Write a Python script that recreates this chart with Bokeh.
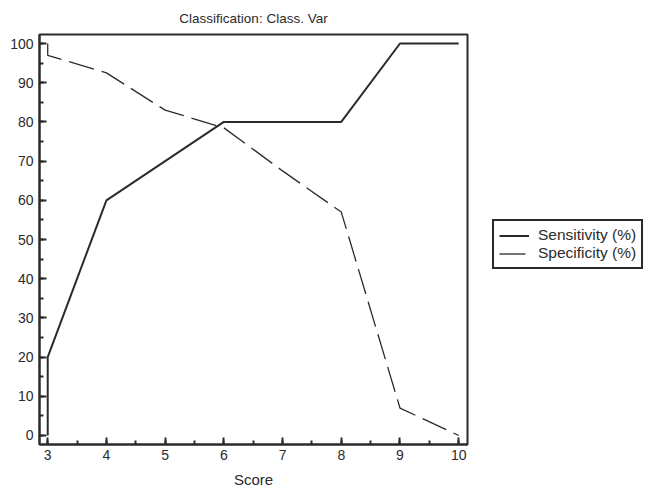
from bokeh.plotting import figure
from bokeh.models import Range1d, SingleIntervalTicker, Legend, LegendItem
from bokeh.embed import file_html
from bokeh.resources import INLINE

score_sens = [3, 3, 4, 5, 6, 8, 9, 10]
sensitivity = [0, 20, 60, 70, 80, 80, 100, 100]
score_spec = [3, 3, 4, 5, 6, 7, 8, 9, 10]
specificity = [100, 97, 92.5, 83, 78.5, 67.5, 57, 7, 0]

INK = "#2b2b2b"
FONT = "Liberation Sans"

p = figure(frame_width=428, frame_height=410, output_backend="svg", toolbar_location=None,
           x_range=Range1d(2.86, 10.15), y_range=Range1d(-2.3, 102.3),
           title="Classification: Class. Var",
           min_border_left=39, min_border_right=180, min_border_top=34, min_border_bottom=40)
p.title.align = "center"
p.title.text_font = FONT
p.title.text_font_size = "13.5px"
p.title.text_font_style = "normal"
p.title.text_color = INK
p.title.text_line_height = 0.6
p.title.standoff = 17

p.xgrid.visible = False
p.ygrid.visible = False
p.outline_line_color = INK
p.outline_line_width = 2
p.background_fill_color = "white"
p.border_fill_color = "white"

p.xaxis.ticker = SingleIntervalTicker(interval=1, num_minor_ticks=2)
p.yaxis.ticker = SingleIntervalTicker(interval=10, num_minor_ticks=2)
p.xaxis.axis_label = "Score"
for ax in (p.xaxis[0], p.yaxis[0]):
    ax.axis_line_color = INK
    ax.axis_line_width = 2
    ax.major_tick_line_color = INK
    ax.major_tick_line_width = 2
    ax.minor_tick_line_color = INK
    ax.minor_tick_line_width = 2
    ax.major_tick_in = 7
    ax.major_tick_out = 0
    ax.minor_tick_in = 4
    ax.minor_tick_out = 0
    ax.major_label_text_font = FONT
    ax.major_label_text_font_size = "14px"
    ax.major_label_text_color = INK
    ax.axis_label_text_font = FONT
    ax.axis_label_text_font_size = "15px"
    ax.axis_label_text_font_style = "normal"
    ax.axis_label_text_color = INK
p.xaxis.major_label_standoff = 5
p.yaxis.major_label_standoff = 6
p.xaxis.axis_label_standoff = 8

r1 = p.line(score_sens, sensitivity, line_color=INK, line_width=2)
r2 = p.line(score_spec, specificity, line_color=INK, line_width=1.3, line_dash="26 8")

legend = Legend(items=[LegendItem(label="Sensitivity (%)", renderers=[r1]),
                       LegendItem(label="Specificity (%)", renderers=[r2])],
                location=(25, 175))
legend.border_line_color = INK
legend.border_line_width = 2
legend.border_line_alpha = 1.0
legend.label_text_font = FONT
legend.label_text_font_size = "15.5px"
legend.label_text_color = INK
legend.glyph_width = 30
legend.glyph_height = 15
legend.label_height = 15
legend.spacing = 0
legend.padding = 5
legend.margin = 0
legend.label_standoff = 9
p.add_layout(legend, "right")

open("out.html", "w").write(file_html(p, INLINE))
